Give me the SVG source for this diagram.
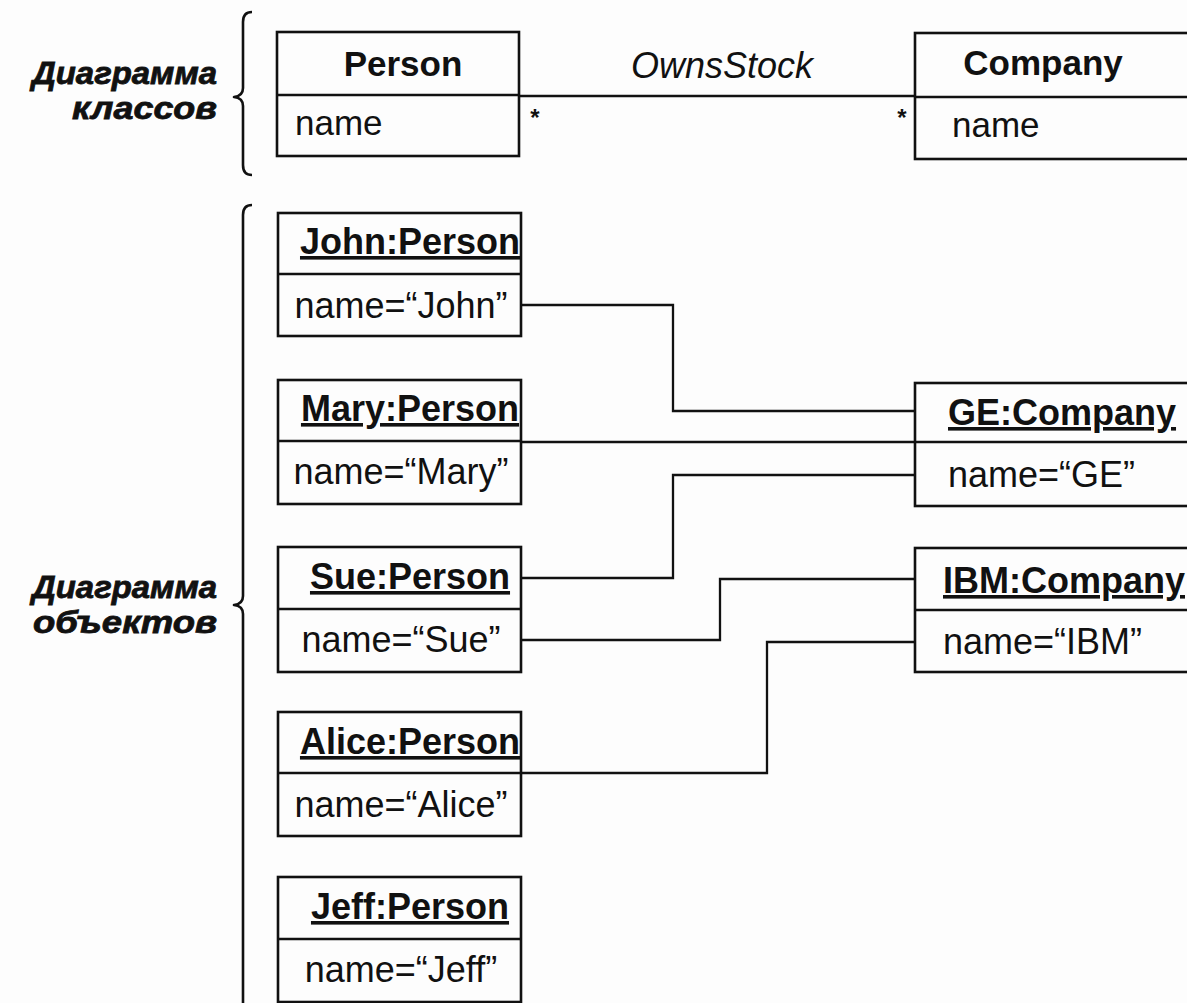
<svg xmlns="http://www.w3.org/2000/svg" width="1187" height="1003" viewBox="0 0 1187 1003">
<style>
.bg{fill:#fdfdfd}
.box{fill:none;stroke:#111;stroke-width:2.6}
.conn{fill:none;stroke:#111;stroke-width:2.3}
.brace{fill:none;stroke:#111;stroke-width:2.6;stroke-linejoin:round}
text{font-family:"Liberation Sans",Arial,sans-serif;fill:#111}
.cls{font-size:35px;font-weight:bold}
.attr{font-size:35px}
.obj{font-size:36px;font-weight:bold;text-decoration:underline}
.val{font-size:36px}
.assoc{font-size:36px;font-style:italic}
.mult{font-size:24px;font-weight:bold}
.lbl{font-size:31px;font-weight:bold;font-style:italic;stroke:#111;stroke-width:0.8}
</style>
<rect class="bg" x="0" y="0" width="1187" height="1003"/>

<g id="label-classes">
<text class="lbl" x="217" y="84" text-anchor="end" textLength="185" lengthAdjust="spacingAndGlyphs">Диаграмма</text>
<text class="lbl" x="217" y="119" text-anchor="end" textLength="145" lengthAdjust="spacingAndGlyphs">классов</text>
<path class="brace" d="M252,12 Q243,12 243,22 V88 Q243,96 234,97 Q243,98 243,106 V165 Q243,175 252,175"/>
</g>
<g id="label-objects">
<text class="lbl" x="217" y="598" text-anchor="end" textLength="185" lengthAdjust="spacingAndGlyphs">Диаграмма</text>
<text class="lbl" x="217" y="633" text-anchor="end" textLength="184" lengthAdjust="spacingAndGlyphs">объектов</text>
<path class="brace" d="M252,205 Q243,205 243,215 V596 Q243,604 234,605 Q243,606 243,614 V1010"/>
</g>

<g id="connectors">
<path class="conn" d="M519,96 H915"/>
<text class="mult" x="535" y="126" text-anchor="middle">*</text>
<text class="mult" x="902" y="126" text-anchor="middle">*</text>
<text class="assoc" x="722" y="78" text-anchor="middle">OwnsStock</text>
<path class="conn" d="M521,305 H673 V411 H915"/>
<path class="conn" d="M521,442 H915"/>
<path class="conn" d="M521,578 H673 V475 H915"/>
<path class="conn" d="M521,640 H720 V579 H915"/>
<path class="conn" d="M521,773 H767 V642 H915"/>
</g>

<g id="class-person">
<rect class="box" x="277" y="32" width="242" height="124"/>
<line class="box" x1="277" y1="95" x2="519" y2="95"/>
<text class="cls" x="403" y="76" text-anchor="middle">Person</text>
<text class="attr" x="295" y="135">name</text>
</g>
<g id="class-company">
<rect class="box" x="915" y="33" width="300" height="126"/>
<line class="box" x1="915" y1="97" x2="1215" y2="97"/>
<text class="cls" x="1043" y="75" text-anchor="middle">Company</text>
<text class="attr" x="952" y="137">name</text>
</g>

<g id="obj-john">
<rect class="box" x="278" y="213" width="243" height="123"/>
<line class="box" x1="278" y1="274" x2="521" y2="274"/>
<text class="obj" x="410" y="254" text-anchor="middle">John:Person</text>
<text class="val" x="401" y="318" text-anchor="middle">name=“John”</text>
</g>
<g id="obj-mary">
<rect class="box" x="278" y="380" width="243" height="124"/>
<line class="box" x1="278" y1="441" x2="521" y2="441"/>
<text class="obj" x="410" y="421" text-anchor="middle">Mary:Person</text>
<text class="val" x="401" y="484" text-anchor="middle">name=“Mary”</text>
</g>
<g id="obj-sue">
<rect class="box" x="278" y="547" width="243" height="125"/>
<line class="box" x1="278" y1="609" x2="521" y2="609"/>
<text class="obj" x="410" y="589" text-anchor="middle">Sue:Person</text>
<text class="val" x="401" y="652" text-anchor="middle">name=“Sue”</text>
</g>
<g id="obj-alice">
<rect class="box" x="278" y="712" width="243" height="124"/>
<line class="box" x1="278" y1="773" x2="521" y2="773"/>
<text class="obj" x="410" y="754" text-anchor="middle">Alice:Person</text>
<text class="val" x="401" y="817" text-anchor="middle">name=“Alice”</text>
</g>
<g id="obj-jeff">
<rect class="box" x="278" y="877" width="243" height="125"/>
<line class="box" x1="278" y1="939" x2="521" y2="939"/>
<text class="obj" x="410" y="919" text-anchor="middle">Jeff:Person</text>
<text class="val" x="401" y="982" text-anchor="middle">name=“Jeff”</text>
</g>

<g id="obj-ge">
<rect class="box" x="915" y="383" width="300" height="123"/>
<line class="box" x1="915" y1="442" x2="1215" y2="442"/>
<text class="obj" x="948" y="425">GE:Company</text>
<text class="val" x="948" y="487">name=“GE”</text>
</g>
<g id="obj-ibm">
<rect class="box" x="915" y="548" width="300" height="124"/>
<line class="box" x1="915" y1="610" x2="1215" y2="610"/>
<text class="obj" x="943" y="593">IBM:Company</text>
<text class="val" x="943" y="654">name=“IBM”</text>
</g>
</svg>
